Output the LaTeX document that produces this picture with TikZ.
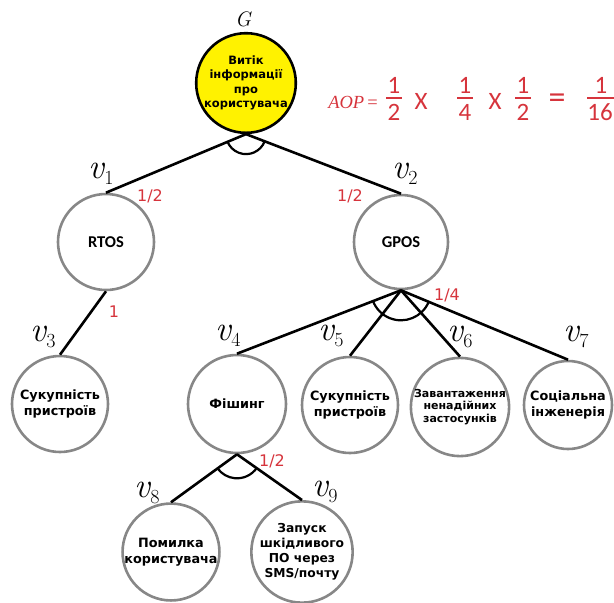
\documentclass[tikz,border=0pt]{standalone}
\usepackage{fontspec}
\setmainfont{DejaVu Sans}
\newfontfamily\calib{Carlito}
\newfontfamily\lmr{Latin Modern Roman}
\newfontfamily\tnr{Liberation Serif}
\usetikzlibrary{calc}
\definecolor{redl}{RGB}{214,52,60}
\definecolor{ringgray}{RGB}{135,135,135}
\newcommand\andjoin[4]{%
  \draw[andarc] let \p1=($(#3)-(#1)$), \p2=($(#2)-(#1)$),
    \n1={atan2(\y1,\x1)}, \n2={atan2(\y2,\x2)} in
    ($(#1)+(\n1:#4pt)$) arc[start angle=\n1, end angle=\n2, radius=#4pt];}
\newcommand\vsub[1]{{\lmr\itshape v}\raisebox{-0.17em}{\fontsize{20}{20}\selectfont\lmr #1}}
\begin{document}
\begin{tikzpicture}[x=1pt,y=1pt,
  nd/.style={circle, line width=2.6pt, draw=ringgray, inner sep=0pt, align=center,
    font=\bfseries\fontsize{12.8}{15.5}\selectfont},
  goal/.style={nd, draw=black, fill=yellow, font=\bfseries\fontsize{11.5}{14.5}\selectfont},
  edge/.style={line width=2.6pt, black},
  andarc/.style={line width=2.2pt, black},
  vlab/.style={font=\fontsize{35}{35}\selectfont, inner sep=0pt},
  prob/.style={text=redl, font=\fontsize{16}{16}\selectfont, inner sep=0pt},
  frm/.style={text=redl, font=\calib\fontsize{25}{25}\selectfont, inner sep=0pt},
  fbar/.style={draw=redl, line width=2.2pt},
]
\useasboundingbox (0,0) rectangle (614,-603);

% nodes
\node[goal, minimum size=96pt] (G) at (246,-83) {Витік\\інформації\\про\\користувача};
\node[nd, minimum size=96pt, font=\calib\bfseries\fontsize{16.5}{16.5}\selectfont] (v1) at (106,-242) {RTOS};
\node[nd, minimum size=94pt, font=\calib\bfseries\fontsize{16.5}{16.5}\selectfont] (v2) at (401,-242) {GPOS};
\node[nd, minimum size=96pt] (v3) at (60,-404) {Сукупність\\пристроїв};
\node[nd, minimum size=98pt] (v4) at (237,-404) {Фішинг};
\node[nd, minimum size=96pt] (v5) at (350,-405) {Сукупність\\пристроїв};
\node[nd, minimum size=92pt, font=\bfseries\fontsize{11}{12.8}\selectfont] (v6) at (460,-407) {Завантаження\\ненадійних\\застосунків};
\node[nd, minimum size=88pt] (v7) at (568,-405) {Соціальна\\інженерія};
\node[nd, minimum size=96pt] (v8) at (171,-552) {Помилка\\користувача};
\node[nd, minimum size=92pt, font=\bfseries\fontsize{12.3}{15}\selectfont] (v9) at (302,-552) {Запуск\\шкідливого\\ПО через\\SMS/почту};

% edges
\draw[edge] (G.south) -- (v1.north);
\draw[edge] (G.south) -- (v2.north);
\draw[edge] (v1.south) -- (v3.north);
\draw[edge] (v2.south) -- (v4.north);
\draw[edge] (v2.south) -- (v5.north);
\draw[edge] (v2.south) -- (v6.north);
\draw[edge] (v2.south) -- (v7.north);
\draw[edge] (v4.south) -- (v8.north);
\draw[edge] (v4.south) -- (v9.north);

% AND arcs
\andjoin{G.south}{v1.north}{v2.north}{20}
\andjoin{v2.south}{v4.north}{v7.north}{30}
\andjoin{v4.south}{v8.north}{v9.north}{24}

% labels
\node[font=\lmr\itshape\fontsize{21}{21}\selectfont, inner sep=0pt] (gl) at (243,-19) {G};
\node[vlab] (l1) at (101,-174) {\vsub{1}};
\node[vlab] (l2) at (405,-174) {\vsub{2}};
\node[vlab] (l3) at (43,-337) {\vsub{3}};
\node[vlab] (l4) at (228,-336) {\vsub{4}};
\node[vlab] (l5) at (331,-336) {\vsub{5}};
\node[vlab] (l6) at (460,-337) {\vsub{6}};
\node[vlab] (l7) at (576,-337) {\vsub{7}};
\node[vlab] (l8) at (147,-493) {\vsub{8}};
\node[vlab] (l9) at (325,-492) {\vsub{9}};

% probabilities
\node[prob] (p1) at (150,-196) {1/2};
\node[prob] (p2) at (350,-196) {1/2};
\node[prob] (p3) at (114,-312) {1};
\node[prob] (p4) at (447,-295) {1/4};
\node[prob] (p5) at (272,-461) {1/2};

% formula
\node[text=redl, font=\tnr\itshape\fontsize{18.5}{18.5}\selectfont, inner sep=0pt] (aop) at (353,-102) {AOP\,{\upshape=}};
\node[frm] (n1) at (394,-85) {1};
\node[frm] (d1) at (394,-112) {2};
\draw[fbar] (386,-98) -- (402,-98);
\node[frm] (x1) at (421,-101) {X};
\node[frm] (n2) at (465,-85) {1};
\node[frm] (d2) at (465,-112) {4};
\draw[fbar] (457,-98) -- (473,-98);
\node[frm] (x2) at (495,-101) {X};
\node[frm] (n3) at (523,-85) {1};
\node[frm] (d3) at (523,-112) {2};
\draw[fbar] (515,-98) -- (531,-98);
\node[frm, font=\calib\fontsize{34}{34}\selectfont] (eq) at (557,-101) {=};
\node[frm] (n4) at (601,-85) {1};
\node[frm] (d4) at (600,-112) {16};
\draw[fbar] (587,-98) -- (614,-98);
\end{tikzpicture}
\end{document}
